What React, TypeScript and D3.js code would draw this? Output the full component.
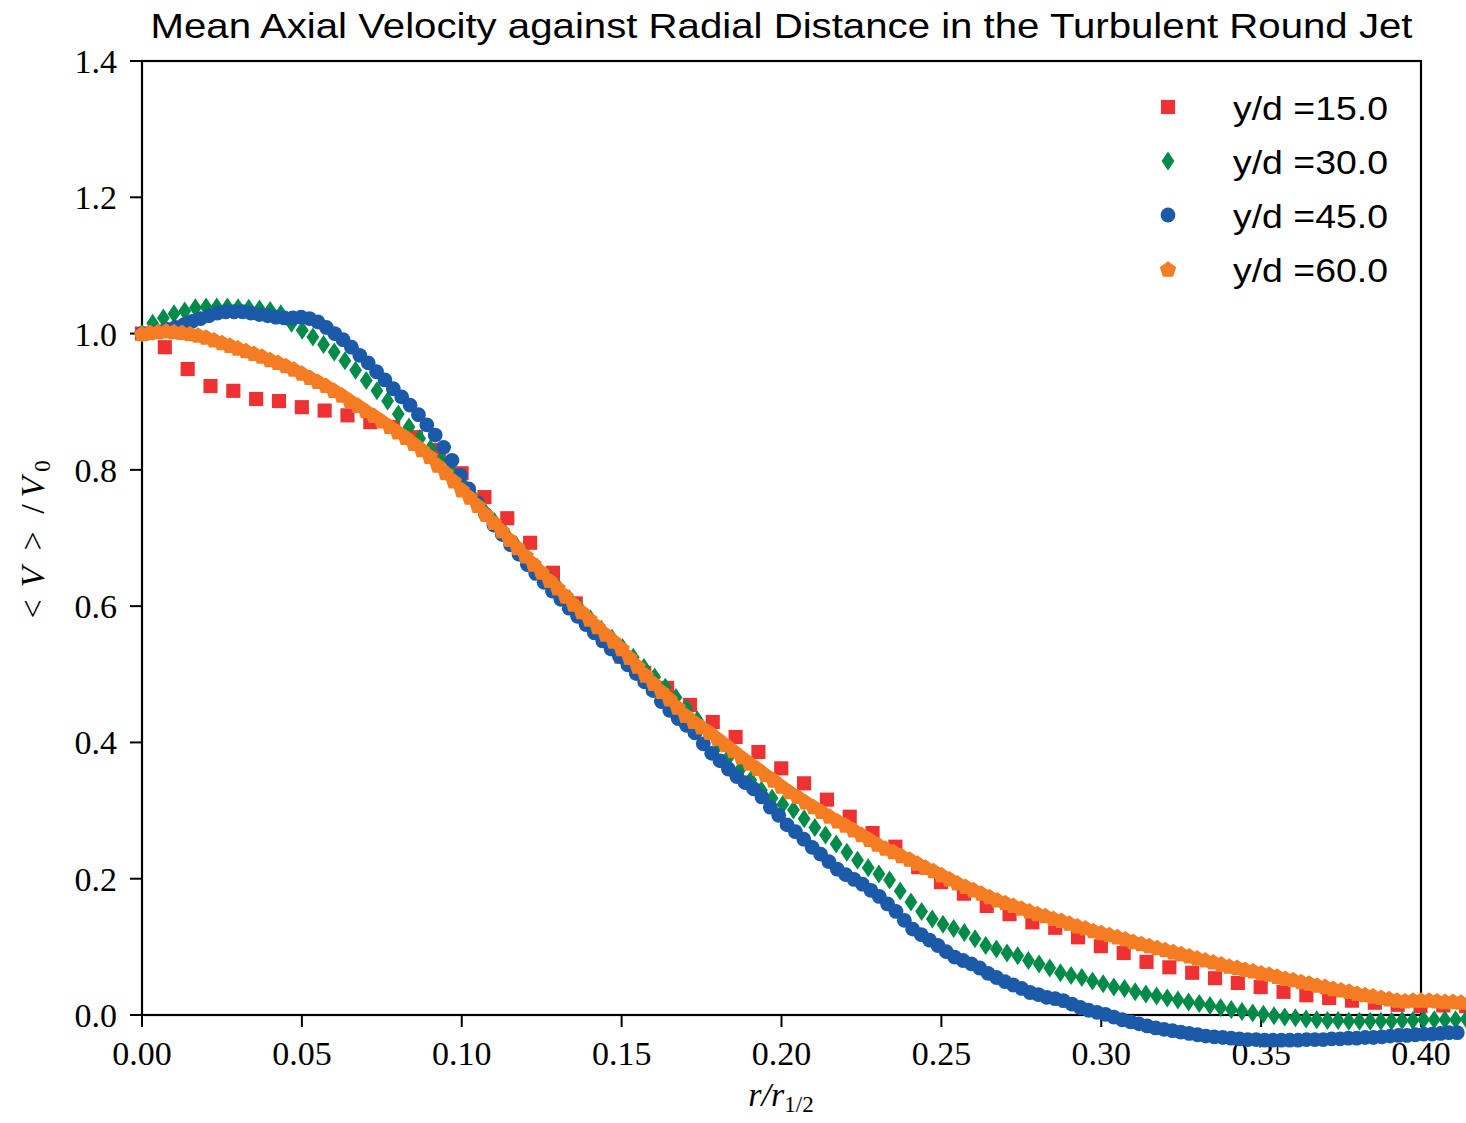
import React from "react";
import * as d3 from "d3";

// ---- data ----
const SERIES_LABELS = ["y/d =15.0", "y/d =30.0", "y/d =45.0", "y/d =60.0"];
const SERIES_COLORS = ["#ee3234", "#008c48", "#1b5aa9", "#f47d23"];

// radial sampling step (r/r_1/2) of each measurement grid
const RED_STEP = 0.00714;
const GREEN_STEP = 0.00334;
const BLUE_STEP = 0.00262;
const ORANGE_STEP = 0.0025;

const redValues = [
  1.0, 0.98, 0.948, 0.923, 0.916, 0.904, 0.901, 0.892, 0.887, 0.88,
  0.87, 0.863, 0.848, 0.829, 0.795, 0.76, 0.729, 0.693, 0.649, 0.604,
  0.561, 0.526, 0.502, 0.48, 0.455, 0.43, 0.408, 0.386, 0.362, 0.34,
  0.316, 0.291, 0.267, 0.247, 0.217, 0.195, 0.178, 0.16, 0.148, 0.136,
  0.128, 0.114, 0.101, 0.091, 0.078, 0.07, 0.062, 0.054, 0.047, 0.041,
  0.034, 0.029, 0.025, 0.021, 0.018, 0.015, 0.013, 0.014, 0.013,
];

const greenValues = [
  1.0, 1.015, 1.023, 1.029, 1.033, 1.038, 1.039, 1.039, 1.039, 1.038,
  1.037, 1.036, 1.034, 1.029, 1.015, 1.005, 0.995, 0.984, 0.973, 0.96,
  0.946, 0.931, 0.916, 0.901, 0.882, 0.863, 0.846, 0.831, 0.814, 0.797,
  0.78, 0.76, 0.741, 0.724, 0.707, 0.69, 0.673, 0.657, 0.642, 0.627,
  0.611, 0.596, 0.581, 0.566, 0.553, 0.539, 0.525, 0.51, 0.496, 0.481,
  0.466, 0.45, 0.433, 0.416, 0.398, 0.38, 0.36, 0.345, 0.33, 0.318,
  0.309, 0.301, 0.288, 0.275, 0.264, 0.251, 0.239, 0.227, 0.216, 0.207,
  0.198, 0.182, 0.166, 0.152, 0.141, 0.133, 0.127, 0.121, 0.112, 0.102,
  0.097, 0.091, 0.087, 0.08, 0.075, 0.069, 0.062, 0.058, 0.055, 0.05,
  0.046, 0.041, 0.039, 0.034, 0.031, 0.028, 0.025, 0.022, 0.019, 0.017,
  0.014, 0.011, 0.008, 0.005, 0.003, 0.001, -0.001, -0.003, -0.004, -0.006,
  -0.007, -0.008, -0.008, -0.009, -0.009, -0.009, -0.009, -0.009, -0.008, -0.008,
  -0.007, -0.007, -0.007, -0.007, -0.006,
];

const blueValues = [
  1.0, 1.001, 1.003, 1.006, 1.009, 1.013, 1.018, 1.022, 1.026, 1.03,
  1.032, 1.032, 1.032, 1.03, 1.028, 1.026, 1.024, 1.023, 1.023, 1.024,
  1.022, 1.017, 1.009, 1.0, 0.991, 0.98, 0.968, 0.957, 0.944, 0.932,
  0.919, 0.907, 0.895, 0.881, 0.866, 0.851, 0.833, 0.814, 0.792, 0.772,
  0.752, 0.735, 0.719, 0.705, 0.69, 0.676, 0.661, 0.648, 0.635, 0.622,
  0.61, 0.597, 0.585, 0.573, 0.561, 0.549, 0.537, 0.526, 0.514, 0.501,
  0.489, 0.476, 0.46, 0.447, 0.435, 0.425, 0.414, 0.398, 0.384, 0.373,
  0.361, 0.35, 0.341, 0.332, 0.32, 0.305, 0.293, 0.279, 0.269, 0.258,
  0.246, 0.236, 0.225, 0.214, 0.206, 0.199, 0.192, 0.183, 0.174, 0.163,
  0.152, 0.139, 0.126, 0.118, 0.11, 0.102, 0.093, 0.085, 0.08, 0.075,
  0.069, 0.061, 0.055, 0.049, 0.044, 0.039, 0.033, 0.03, 0.026, 0.024,
  0.021, 0.016, 0.011, 0.007, 0.004, 0.001, -0.003, -0.007, -0.01, -0.013,
  -0.016, -0.019, -0.021, -0.023, -0.025, -0.027, -0.029, -0.031, -0.032, -0.033,
  -0.034, -0.035, -0.036, -0.036, -0.037, -0.037, -0.037, -0.037, -0.037, -0.036,
  -0.036, -0.036, -0.035, -0.035, -0.034, -0.034, -0.033, -0.033, -0.032, -0.031,
  -0.03, -0.03, -0.029, -0.028, -0.028, -0.027, -0.026, -0.026,
];

const orangeValues = [
  1.0, 1.002, 1.003, 1.004, 1.003, 1.002, 1.0, 0.998, 0.995, 0.991,
  0.987, 0.983, 0.979, 0.975, 0.971, 0.967, 0.962, 0.958, 0.953, 0.948,
  0.942, 0.936, 0.93, 0.924, 0.917, 0.91, 0.902, 0.895, 0.887, 0.88,
  0.872, 0.864, 0.856, 0.848, 0.839, 0.83, 0.82, 0.807, 0.796, 0.784,
  0.771, 0.76, 0.748, 0.735, 0.723, 0.711, 0.698, 0.686, 0.674, 0.662,
  0.65, 0.638, 0.627, 0.615, 0.603, 0.592, 0.581, 0.57, 0.559, 0.549,
  0.538, 0.525, 0.512, 0.499, 0.487, 0.475, 0.464, 0.452, 0.44, 0.431,
  0.423, 0.415, 0.406, 0.397, 0.388, 0.379, 0.37, 0.362, 0.353, 0.345,
  0.336, 0.328, 0.321, 0.313, 0.306, 0.299, 0.292, 0.285, 0.279, 0.272,
  0.265, 0.258, 0.251, 0.245, 0.24, 0.234, 0.229, 0.223, 0.217, 0.212,
  0.206, 0.2, 0.194, 0.189, 0.184, 0.179, 0.174, 0.169, 0.165, 0.161,
  0.157, 0.153, 0.149, 0.146, 0.142, 0.139, 0.135, 0.131, 0.128, 0.124,
  0.121, 0.118, 0.115, 0.112, 0.108, 0.105, 0.102, 0.099, 0.096, 0.093,
  0.09, 0.087, 0.084, 0.081, 0.078, 0.075, 0.072, 0.07, 0.067, 0.065,
  0.062, 0.06, 0.057, 0.054, 0.052, 0.049, 0.047, 0.044, 0.042, 0.039,
  0.037, 0.035, 0.032, 0.03, 0.028, 0.026, 0.024, 0.022, 0.021, 0.022,
  0.022, 0.022, 0.021, 0.02, 0.02, 0.019,
];

const X_TICKS = [0.0, 0.05, 0.1, 0.15, 0.2, 0.25, 0.3, 0.35, 0.4];
const Y_TICKS = [0.0, 0.2, 0.4, 0.6, 0.8, 1.0, 1.2, 1.4];
const TITLE = "Mean Axial Velocity against Radial Distance in the Turbulent Round Jet";

// ---- layout ----
const W = 1466;
const H = 1123;
const L = 142, R = 1421, T = 61, B = 1015;

const x = d3.scaleLinear().domain([0, 0.4]).range([L, R]);
const y = d3.scaleLinear().domain([0, 1.4]).range([B, T]);

const squarePath = d3.symbol(d3.symbolSquare, 200)()!;
const circlePath = d3.symbol(d3.symbolCircle, 172)()!;
const diamondPath = "M0,-9.5L6.4,0L0,9.5L-6.4,0Z";
const pentagonPath = (() => {
  const r = 8.6;
  const pts = d3.range(5).map((k) => {
    const a = -Math.PI / 2 + (k * 2 * Math.PI) / 5;
    return [r * Math.cos(a), r * Math.sin(a) + 0.8];
  });
  return d3.line()(pts as [number, number][]) + "Z";
})();

const MARKERS = [squarePath, diamondPath, circlePath, pentagonPath];

const series = [
  { values: redValues, step: RED_STEP },
  { values: greenValues, step: GREEN_STEP },
  { values: blueValues, step: BLUE_STEP },
  { values: orangeValues, step: ORANGE_STEP },
];

const SERIF = "'Liberation Serif', 'DejaVu Serif', serif";
const SANS = "'Liberation Sans', 'DejaVu Sans', sans-serif";

export default function App() {
  const tickFmtX = d3.format(".2f");
  const tickFmtY = d3.format(".1f");
  return (
    <svg
      width={W}
      height={H}
      viewBox={`0 0 ${W} ${H}`}
      style={{ position: "absolute", left: 0, top: 0, background: "#fff" }}
    >
      <rect x={0} y={0} width={W} height={H} fill="#fff" />
      {/* title */}
      <text
        x={(L + R) / 2}
        y={38}
        textAnchor="middle"
        fontFamily={SANS}
        fontSize={35}
        textLength={1262}
        lengthAdjust="spacingAndGlyphs"
        fill="#000"
      >
        {TITLE}
      </text>

      {/* x ticks */}
      {X_TICKS.map((t) => (
        <g key={"xt" + t}>
          <line x1={x(t)} x2={x(t)} y1={B} y2={B + 12} stroke="#000" strokeWidth={2} />
          <text
            x={x(t)}
            y={1065}
            textAnchor="middle"
            fontFamily={SERIF}
            fontSize={34}
            fill="#000"
          >
            {tickFmtX(t)}
          </text>
        </g>
      ))}
      {/* y ticks */}
      {Y_TICKS.map((t) => (
        <g key={"yt" + t}>
          <line x1={L - 12} x2={L} y1={y(t)} y2={y(t)} stroke="#000" strokeWidth={2} />
          <text
            x={117}
            y={y(t) + 12}
            textAnchor="end"
            fontFamily={SERIF}
            fontSize={34}
            fill="#000"
          >
            {tickFmtY(t)}
          </text>
        </g>
      ))}

      {/* frame */}
      <rect x={L} y={T} width={R - L} height={B - T} fill="none" stroke="#000" strokeWidth={2.2} />

      {/* axis labels */}
      <text x={781} y={1106} textAnchor="middle" fontFamily={SERIF} fontSize={34} fontStyle="italic" fill="#000">
        r/r
        <tspan fontSize={23} dy={6} fontStyle="normal">1/2</tspan>
      </text>
      <g transform={`translate(44,${(T + B) / 2}) rotate(-90)`} fontFamily={SERIF} fontSize={34} fill="#000">
        <text x={-71} y={0} textAnchor="middle">{"<"}</text>
        <text x={-39} y={0} textAnchor="middle" fontStyle="italic">V</text>
        <text x={-3} y={0} textAnchor="middle">{">"}</text>
        <text x={29} y={0} textAnchor="middle">/</text>
        <text x={51} y={0} textAnchor="middle" fontStyle="italic">V</text>
        <text x={72} y={6} textAnchor="middle" fontSize={23}>0</text>
      </g>

      {/* data */}
      {series.map((s, si) => (
        <g key={"s" + si} fill={SERIES_COLORS[si]}>
          {s.values.map((v, i) => (
            <path
              key={i}
              d={MARKERS[si]}
              transform={`translate(${x(i * s.step)},${y(v)})`}
            />
          ))}
        </g>
      ))}

      {/* legend */}
      {SERIES_LABELS.map((lab, i) => (
        <g key={"lg" + i} transform={`translate(0,${107 + i * 54})`}>
          <path d={MARKERS[i]} fill={SERIES_COLORS[i]} transform="translate(1168,0)" />
          <text
            x={1233}
            y={13}
            fontFamily={SANS}
            fontSize={34}
            textLength={155}
            lengthAdjust="spacingAndGlyphs"
            fill="#000"
          >
            {lab}
          </text>
        </g>
      ))}
    </svg>
  );
}
